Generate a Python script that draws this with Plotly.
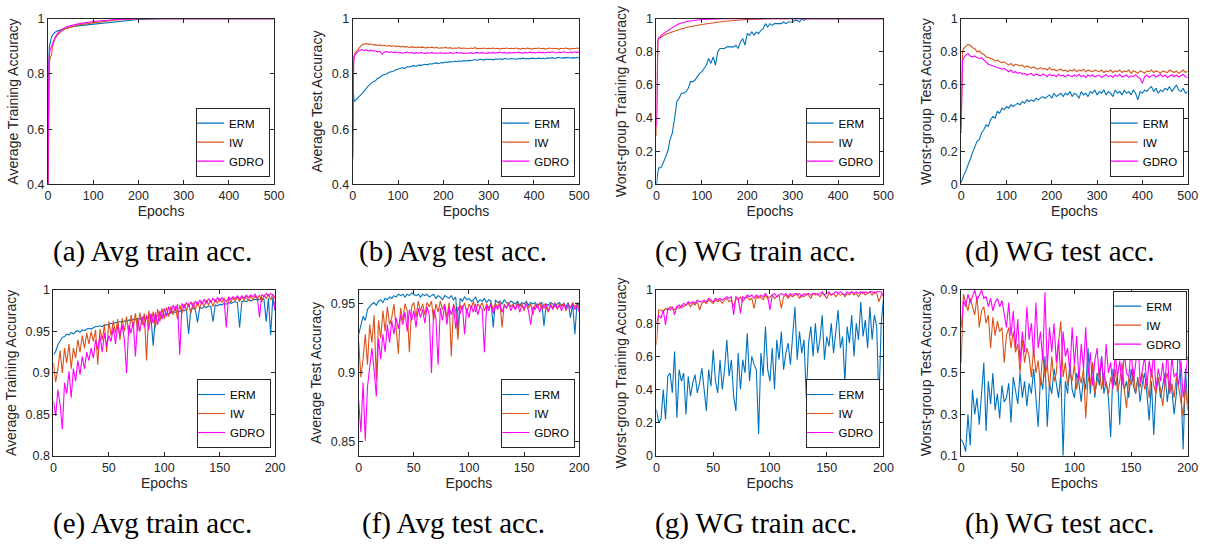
import plotly.graph_objects as go

# ---------------- data ----------------
SERIES = ["ERM", "IW", "GDRO"]
COLORS = {"ERM": "#0072BD", "IW": "#D95319", "GDRO": "#FF00FF"}

EP_TOP = [0, 1, 2, 3] + list(range(5, 501, 5))
EP_SPARSE = [0, 1, 2, 3, 5, 8, 10, 15, 20, 30, 40, 50, 70, 100, 150, 200, 250, 500]
EP_BOT = list(range(0, 201, 2))

# (a) average training accuracy (500 epochs)
A_ERM = [0.40, 0.77, 0.86, 0.90, 0.92, 0.935, 0.94, 0.95, 0.955, 0.96, 0.965, 0.97, 0.975, 0.98, 0.99, 0.997, 1.0, 1.0]
A_IW = [0.40, 0.72, 0.80, 0.84, 0.86, 0.87, 0.90, 0.925, 0.94, 0.955, 0.965, 0.97, 0.978, 0.985, 0.995, 1.0, 1.0, 1.0]
A_GDRO = [0.40, 0.75, 0.84, 0.87, 0.89, 0.90, 0.91, 0.93, 0.945, 0.96, 0.97, 0.975, 0.982, 0.99, 0.997, 1.0, 1.0, 1.0]

# (b) average test accuracy (500 epochs)
B_ERM = [0.78, 0.74, 0.71, 0.70,
         0.703, 0.710, 0.720, 0.728, 0.740, 0.748, 0.758, 0.765, 0.772, 0.775,
         0.784, 0.787, 0.795, 0.798, 0.800, 0.806, 0.808, 0.810, 0.815, 0.817,
         0.818, 0.822, 0.820, 0.826, 0.825, 0.828, 0.830, 0.827, 0.832, 0.831,
         0.834, 0.835, 0.833, 0.837, 0.836, 0.838, 0.840, 0.837, 0.841, 0.840,
         0.843, 0.842, 0.845, 0.843, 0.846, 0.845, 0.847, 0.846, 0.848, 0.847,
         0.849, 0.848, 0.850, 0.852, 0.849, 0.853, 0.852, 0.850, 0.854, 0.852,
         0.853, 0.851, 0.854, 0.853, 0.855, 0.852, 0.856, 0.854, 0.853, 0.856,
         0.855, 0.853, 0.856, 0.854, 0.857, 0.855, 0.856, 0.854, 0.857, 0.856,
         0.855, 0.858, 0.856, 0.857, 0.855, 0.858, 0.857, 0.859, 0.856, 0.858,
         0.860, 0.857, 0.859, 0.858, 0.860, 0.857, 0.859, 0.858, 0.860, 0.857]
B_IW = [0.50, 0.80, 0.85, 0.865,
        0.875, 0.885, 0.895, 0.905, 0.908, 0.910, 0.907, 0.909, 0.905, 0.906,
        0.903, 0.905, 0.902, 0.904, 0.901, 0.903, 0.900, 0.902, 0.899, 0.901,
        0.898, 0.900, 0.897, 0.899, 0.896, 0.898, 0.897, 0.895, 0.898, 0.896,
        0.897, 0.894, 0.896, 0.895, 0.897, 0.894, 0.896, 0.893, 0.895, 0.894,
        0.896, 0.893, 0.895, 0.892, 0.894, 0.893, 0.895, 0.892, 0.894, 0.893,
        0.891, 0.894, 0.892, 0.895, 0.891, 0.893, 0.892, 0.894, 0.891, 0.893,
        0.892, 0.894, 0.891, 0.893, 0.890, 0.893, 0.892, 0.894, 0.891, 0.893,
        0.891, 0.894, 0.892, 0.890, 0.893, 0.891, 0.894, 0.892, 0.890, 0.893,
        0.892, 0.894, 0.891, 0.893, 0.890, 0.892, 0.894, 0.891, 0.893, 0.892,
        0.890, 0.893, 0.891, 0.894, 0.892, 0.890, 0.893, 0.891, 0.894, 0.892]
B_GDRO = [0.49, 0.78, 0.84, 0.86,
          0.870, 0.878, 0.885, 0.888, 0.884, 0.887, 0.883, 0.886, 0.882, 0.884,
          0.880, 0.882, 0.872, 0.879, 0.881, 0.878, 0.880, 0.877, 0.879, 0.876,
          0.878, 0.875, 0.877, 0.879, 0.876, 0.878, 0.874, 0.877, 0.875, 0.878,
          0.876, 0.874, 0.877, 0.875, 0.878, 0.874, 0.876, 0.875, 0.877, 0.874,
          0.876, 0.875, 0.877, 0.874, 0.876, 0.878, 0.875, 0.877, 0.874, 0.876,
          0.875, 0.877, 0.874, 0.876, 0.878, 0.875, 0.877, 0.876, 0.874, 0.877,
          0.876, 0.878, 0.875, 0.877, 0.879, 0.876, 0.878, 0.875, 0.877, 0.876,
          0.878, 0.876, 0.879, 0.877, 0.875, 0.878, 0.876, 0.879, 0.877, 0.878,
          0.876, 0.879, 0.877, 0.878, 0.876, 0.879, 0.877, 0.880, 0.878, 0.876,
          0.879, 0.877, 0.880, 0.878, 0.876, 0.879, 0.877, 0.880, 0.878, 0.879]

# (c) worst-group training accuracy (500 epochs)
C_ERM = [0.00, 0.03, 0.05, 0.07,
         0.10, 0.10, 0.13, 0.17, 0.20, 0.27, 0.31, 0.40, 0.50, 0.52,
         0.55, 0.55, 0.56, 0.58, 0.62, 0.62, 0.63, 0.65, 0.67, 0.68,
         0.70, 0.72, 0.76, 0.73, 0.77, 0.72, 0.80, 0.82, 0.82, 0.82,
         0.83, 0.83, 0.83, 0.83, 0.84, 0.82, 0.86, 0.88, 0.84, 0.91,
         0.90, 0.92, 0.90, 0.92, 0.91, 0.93, 0.94, 0.97, 0.95, 0.97,
         0.96, 0.97, 0.97, 0.97, 0.97, 0.98, 0.97, 0.98, 0.98, 0.98,
         0.99, 0.99, 0.98, 1.00, 0.99, 1.00, 1.00, 1.00, 1.00, 1.00,
         1.00, 1.00, 1.00, 1.00, 1.00, 1.00, 1.00, 1.00, 1.00, 1.00,
         1.00, 1.00, 1.00, 1.00, 1.00, 1.00, 1.00, 1.00, 1.00, 1.00,
         1.00, 1.00, 1.00, 1.00, 1.00, 1.00, 1.00, 1.00, 1.00, 1.00]
C_IW = [0.29, 0.60, 0.80, 0.86, 0.88, 0.885, 0.89, 0.90, 0.905, 0.915, 0.925, 0.935, 0.95, 0.965, 0.985, 0.995, 1.0, 1.0]
C_GDRO = [0.35, 0.65, 0.82, 0.87, 0.885, 0.89, 0.90, 0.91, 0.92, 0.935, 0.955, 0.97, 0.985, 0.995, 1.0, 1.0, 1.0, 1.0]

# (d) worst-group test accuracy (500 epochs)
D_ERM = [0.01, 0.02, 0.03, 0.04,
         0.05, 0.08, 0.11, 0.15, 0.19, 0.22, 0.26, 0.27, 0.31, 0.33,
         0.36, 0.35, 0.39, 0.41, 0.40, 0.44, 0.43, 0.46, 0.45, 0.47,
         0.46, 0.48, 0.47, 0.48, 0.49, 0.48, 0.50, 0.49, 0.51, 0.50,
         0.51, 0.50, 0.52, 0.51, 0.52, 0.53, 0.52, 0.53, 0.54, 0.52,
         0.55, 0.53, 0.54, 0.55, 0.53, 0.55, 0.54, 0.56, 0.53, 0.55,
         0.54, 0.52, 0.56, 0.54, 0.55, 0.53, 0.56, 0.55, 0.57, 0.54,
         0.56, 0.55, 0.57, 0.54, 0.56, 0.55, 0.53, 0.57, 0.55, 0.56,
         0.54, 0.57, 0.55, 0.56, 0.54, 0.57, 0.55, 0.51, 0.56, 0.55,
         0.57, 0.56, 0.58, 0.59, 0.56, 0.58, 0.55, 0.57, 0.56, 0.58,
         0.57, 0.59, 0.56, 0.58, 0.60, 0.57, 0.56, 0.58, 0.55, 0.56]
D_IW = [0.31, 0.65, 0.78, 0.80,
        0.82, 0.835, 0.845, 0.84, 0.825, 0.82, 0.80, 0.805, 0.79, 0.785,
        0.77, 0.765, 0.76, 0.755, 0.745, 0.75, 0.74, 0.735, 0.74, 0.73,
        0.72, 0.73, 0.715, 0.725, 0.72, 0.715, 0.72, 0.705, 0.715, 0.71,
        0.70, 0.71, 0.70, 0.695, 0.705, 0.695, 0.70, 0.69, 0.705, 0.69,
        0.695, 0.685, 0.69, 0.695, 0.685, 0.69, 0.68, 0.69, 0.685, 0.695,
        0.68, 0.69, 0.685, 0.695, 0.68, 0.69, 0.685, 0.68, 0.69, 0.685,
        0.68, 0.69, 0.675, 0.685, 0.68, 0.69, 0.675, 0.685, 0.68, 0.69,
        0.675, 0.685, 0.68, 0.69, 0.67, 0.685, 0.68, 0.67, 0.685, 0.68,
        0.67, 0.685, 0.68, 0.69, 0.675, 0.685, 0.68, 0.67, 0.685, 0.68,
        0.675, 0.69, 0.68, 0.675, 0.685, 0.67, 0.68, 0.69, 0.675, 0.685]
D_GDRO = [0.35, 0.60, 0.72, 0.75,
          0.76, 0.78, 0.79, 0.775, 0.77, 0.775, 0.765, 0.76, 0.765, 0.75,
          0.74, 0.725, 0.72, 0.715, 0.71, 0.705, 0.70, 0.695, 0.70, 0.69,
          0.68, 0.69, 0.675, 0.68, 0.67, 0.675, 0.665, 0.67, 0.66, 0.665,
          0.67, 0.655, 0.665, 0.66, 0.655, 0.665, 0.66, 0.65, 0.665, 0.655,
          0.66, 0.65, 0.665, 0.655, 0.66, 0.648, 0.662, 0.655, 0.65, 0.66,
          0.652, 0.665, 0.65, 0.658, 0.645, 0.66, 0.652, 0.662, 0.648, 0.655,
          0.66, 0.645, 0.655, 0.662, 0.65, 0.658, 0.645, 0.66, 0.652, 0.665,
          0.648, 0.655, 0.66, 0.645, 0.655, 0.65, 0.662, 0.648, 0.64, 0.61,
          0.65, 0.66, 0.645, 0.655, 0.662, 0.648, 0.658, 0.665, 0.65, 0.66,
          0.645, 0.655, 0.662, 0.65, 0.66, 0.648, 0.655, 0.665, 0.65, 0.645]

# (e) average training accuracy (200 epochs)
E_ERM = [0.922, 0.926, 0.934, 0.938, 0.943, 0.944, 0.947, 0.946, 0.949, 0.947,
         0.950, 0.951, 0.949, 0.952, 0.951, 0.953, 0.954, 0.953, 0.955, 0.956,
         0.956, 0.957, 0.956, 0.958, 0.958, 0.959, 0.960, 0.959, 0.961, 0.961,
         0.962, 0.961, 0.963, 0.962, 0.964, 0.963, 0.965, 0.964, 0.966, 0.965,
         0.966, 0.967, 0.966, 0.968, 0.967, 0.933, 0.968, 0.969, 0.970, 0.969,
         0.971, 0.972, 0.971, 0.973, 0.974, 0.973, 0.975, 0.974, 0.976, 0.975,
         0.977, 0.947, 0.977, 0.978, 0.977, 0.961, 0.979, 0.978, 0.980, 0.979,
         0.981, 0.980, 0.962, 0.982, 0.981, 0.983, 0.982, 0.984, 0.983, 0.985,
         0.984, 0.985, 0.986, 0.985, 0.955, 0.986, 0.987, 0.986, 0.988, 0.987,
         0.988, 0.989, 0.988, 0.989, 0.990, 0.989, 0.962, 0.990, 0.946, 0.991,
         0.975]
E_IW = [0.912, 0.889, 0.905, 0.927, 0.900, 0.930, 0.912, 0.935, 0.905, 0.930,
        0.918, 0.940, 0.925, 0.945, 0.930, 0.948, 0.935, 0.950, 0.938, 0.952,
        0.910, 0.953, 0.940, 0.958, 0.925, 0.962, 0.945, 0.963, 0.948, 0.965,
        0.940, 0.966, 0.950, 0.968, 0.945, 0.970, 0.955, 0.972, 0.950, 0.973,
        0.958, 0.972, 0.915, 0.975, 0.960, 0.974, 0.955, 0.977, 0.962, 0.978,
        0.965, 0.979, 0.968, 0.980, 0.970, 0.981, 0.965, 0.982, 0.972, 0.983,
        0.975, 0.984, 0.972, 0.985, 0.976, 0.986, 0.978, 0.987, 0.980, 0.988,
        0.982, 0.988, 0.980, 0.989, 0.984, 0.990, 0.985, 0.990, 0.986, 0.991,
        0.985, 0.991, 0.987, 0.992, 0.986, 0.992, 0.988, 0.992, 0.987, 0.993,
        0.988, 0.993, 0.989, 0.994, 0.986, 0.994, 0.990, 0.995, 0.988, 0.995,
        0.990]
E_GDRO = [0.866, 0.848, 0.880, 0.862, 0.832, 0.888, 0.875, 0.902, 0.870, 0.905,
          0.890, 0.915, 0.898, 0.920, 0.905, 0.925, 0.915, 0.930, 0.918, 0.940,
          0.928, 0.945, 0.925, 0.948, 0.932, 0.945, 0.938, 0.955, 0.935, 0.958,
          0.945, 0.958, 0.940, 0.900, 0.958, 0.948, 0.962, 0.920, 0.965, 0.950,
          0.968, 0.955, 0.970, 0.952, 0.972, 0.960, 0.973, 0.958, 0.975, 0.965,
          0.978, 0.968, 0.980, 0.972, 0.982, 0.975, 0.983, 0.922, 0.984, 0.978,
          0.985, 0.980, 0.986, 0.979, 0.987, 0.982, 0.988, 0.983, 0.989, 0.984,
          0.990, 0.985, 0.990, 0.986, 0.991, 0.987, 0.991, 0.988, 0.955, 0.992,
          0.989, 0.992, 0.990, 0.993, 0.989, 0.993, 0.990, 0.994, 0.991, 0.994,
          0.992, 0.995, 0.991, 0.967, 0.995, 0.992, 0.996, 0.993, 0.996, 0.994,
          0.976]

# (f) average test accuracy (200 epochs)
F_ERM = [0.928, 0.935, 0.941, 0.938, 0.946, 0.948, 0.950, 0.951, 0.949, 0.952,
         0.953, 0.951, 0.954, 0.953, 0.955, 0.954, 0.956, 0.955, 0.957, 0.956,
         0.957, 0.955, 0.957, 0.956, 0.958, 0.957, 0.956, 0.957, 0.955, 0.957,
         0.956, 0.957, 0.955, 0.956, 0.957, 0.954, 0.956, 0.955, 0.953, 0.956,
         0.955, 0.954, 0.956, 0.953, 0.955, 0.930, 0.954, 0.952, 0.955, 0.953,
         0.954, 0.952, 0.953, 0.955, 0.951, 0.953, 0.952, 0.954, 0.951, 0.953,
         0.952, 0.933, 0.953, 0.951, 0.952, 0.950, 0.953, 0.951, 0.950, 0.952,
         0.951, 0.950, 0.952, 0.949, 0.951, 0.950, 0.952, 0.949, 0.951, 0.950,
         0.951, 0.949, 0.950, 0.951, 0.934, 0.950, 0.949, 0.951, 0.950, 0.948,
         0.950, 0.951, 0.949, 0.950, 0.948, 0.951, 0.940, 0.950, 0.928, 0.951,
         0.949]
F_IW = [0.923, 0.897, 0.910, 0.928, 0.906, 0.935, 0.922, 0.942, 0.895, 0.938,
        0.925, 0.945, 0.930, 0.948, 0.935, 0.940, 0.950, 0.932, 0.914, 0.947,
        0.938, 0.950, 0.945, 0.915, 0.948, 0.951, 0.940, 0.952, 0.945, 0.950,
        0.942, 0.951, 0.948, 0.952, 0.938, 0.950, 0.944, 0.952, 0.946, 0.950,
        0.940, 0.951, 0.912, 0.950, 0.945, 0.924, 0.949, 0.946, 0.951, 0.943,
        0.950, 0.947, 0.952, 0.944, 0.950, 0.948, 0.951, 0.945, 0.950, 0.947,
        0.951, 0.946, 0.950, 0.948, 0.952, 0.933, 0.950, 0.947, 0.951, 0.948,
        0.950, 0.946, 0.951, 0.948, 0.950, 0.945, 0.951, 0.947, 0.950, 0.942,
        0.950, 0.947, 0.951, 0.946, 0.950, 0.948, 0.944, 0.950, 0.947, 0.951,
        0.946, 0.950, 0.948, 0.951, 0.945, 0.950, 0.947, 0.951, 0.948, 0.950,
        0.947]
F_GDRO = [0.880, 0.857, 0.893, 0.851, 0.890, 0.905, 0.918, 0.902, 0.883, 0.925,
          0.910, 0.928, 0.915, 0.935, 0.922, 0.938, 0.928, 0.940, 0.932, 0.942,
          0.935, 0.944, 0.930, 0.946, 0.938, 0.945, 0.933, 0.947, 0.940, 0.946,
          0.936, 0.948, 0.942, 0.900, 0.946, 0.940, 0.906, 0.947, 0.938, 0.949,
          0.935, 0.948, 0.942, 0.949, 0.932, 0.948, 0.943, 0.949, 0.928, 0.947,
          0.940, 0.949, 0.944, 0.950, 0.942, 0.948, 0.946, 0.915, 0.949, 0.945,
          0.950, 0.943, 0.949, 0.946, 0.950, 0.944, 0.949, 0.947, 0.950, 0.945,
          0.949, 0.946, 0.950, 0.944, 0.949, 0.947, 0.950, 0.945, 0.935, 0.948,
          0.946, 0.950, 0.944, 0.949, 0.947, 0.950, 0.945, 0.949, 0.946, 0.950,
          0.947, 0.949, 0.945, 0.950, 0.946, 0.949, 0.947, 0.950, 0.946, 0.949,
          0.944]

# (g) worst-group training accuracy (200 epochs)
G_ERM = [0.28, 0.20, 0.22, 0.40, 0.22, 0.48, 0.50, 0.38, 0.63, 0.23,
         0.52, 0.45, 0.50, 0.25, 0.48, 0.36, 0.44, 0.49, 0.38, 0.44,
         0.53, 0.40, 0.27, 0.52, 0.42, 0.64, 0.45, 0.38, 0.58, 0.40,
         0.52, 0.70, 0.48, 0.58, 0.36, 0.27, 0.62, 0.40, 0.58, 0.50,
         0.74, 0.45, 0.60, 0.55, 0.52, 0.13, 0.62, 0.48, 0.78, 0.52,
         0.45, 0.65, 0.40, 0.70, 0.58, 0.75, 0.52, 0.62, 0.68, 0.55,
         0.72, 0.90, 0.58, 0.75, 0.62, 0.70, 0.35, 0.68, 0.78, 0.60,
         0.80, 0.62, 0.70, 0.85, 0.58, 0.72, 0.66, 0.80, 0.62, 0.75,
         0.88, 0.65, 0.72, 0.44, 0.78, 0.68, 0.85, 0.60, 0.80, 0.70,
         0.93, 0.72, 0.82, 0.65, 0.90, 0.70, 0.85, 0.78, 0.32, 0.80,
         0.95]
G_IW = [0.67, 0.88, 0.88, 0.87, 0.89, 0.88, 0.90, 0.89, 0.88, 0.90,
        0.89, 0.91, 0.90, 0.91, 0.92, 0.90, 0.92, 0.91, 0.93, 0.88,
        0.92, 0.93, 0.92, 0.94, 0.93, 0.92, 0.94, 0.93, 0.94, 0.92,
        0.94, 0.95, 0.93, 0.94, 0.90, 0.95, 0.94, 0.96, 0.93, 0.95,
        0.96, 0.94, 0.95, 0.89, 0.96, 0.95, 0.96, 0.94, 0.97, 0.95,
        0.96, 0.97, 0.95, 0.96, 0.97, 0.89, 0.96, 0.97, 0.95, 0.97,
        0.96, 0.97, 0.98, 0.95, 0.97, 0.96, 0.98, 0.97, 0.95, 0.98,
        0.97, 0.98, 0.96, 0.98, 0.97, 0.95, 0.98, 0.97, 0.98, 0.96,
        0.98, 0.97, 0.98, 0.96, 0.98, 0.97, 0.99, 0.97, 0.98, 0.96,
        0.98, 0.99, 0.97, 0.98, 0.99, 0.97, 0.99, 0.98, 0.93, 0.97,
        0.98]
G_GDRO = [0.80, 0.85, 0.83, 0.88, 0.79, 0.89, 0.88, 0.90, 0.85, 0.90,
          0.91, 0.89, 0.92, 0.91, 0.93, 0.92, 0.93, 0.92, 0.94, 0.93,
          0.93, 0.94, 0.93, 0.95, 0.94, 0.93, 0.95, 0.94, 0.95, 0.94,
          0.95, 0.96, 0.95, 0.96, 0.85, 0.96, 0.95, 0.86, 0.96, 0.95,
          0.97, 0.96, 0.97, 0.95, 0.97, 0.96, 0.97, 0.96, 0.98, 0.96,
          0.88, 0.97, 0.98, 0.96, 0.97, 0.98, 0.97, 0.98, 0.96, 0.98,
          0.97, 0.98, 0.97, 0.98, 0.96, 0.98, 0.97, 0.98, 0.97, 0.98,
          0.98, 0.97, 0.98, 0.99, 0.97, 0.98, 0.99, 0.97, 0.98, 0.99,
          0.98, 0.99, 0.98, 0.97, 0.99, 0.98, 0.99, 0.98, 0.99, 0.98,
          0.99, 0.98, 0.99, 0.98, 0.99, 0.99, 0.98, 0.99, 0.99, 0.99,
          0.96]

# (h) worst-group test accuracy (200 epochs)
H_ERM = [0.18, 0.16, 0.12, 0.30, 0.15, 0.42, 0.30, 0.38, 0.25, 0.40,
         0.55, 0.22, 0.46, 0.35, 0.50, 0.32, 0.40, 0.28, 0.44, 0.36,
         0.38, 0.45, 0.26, 0.48, 0.42, 0.35, 0.50, 0.38, 0.46, 0.34,
         0.45, 0.40, 0.52, 0.36, 0.24, 0.48, 0.42, 0.58, 0.24, 0.45,
         0.40, 0.52, 0.44, 0.38, 0.50, 0.10, 0.46, 0.40, 0.55, 0.42,
         0.38, 0.50, 0.45, 0.36, 0.48, 0.42, 0.62, 0.40, 0.55, 0.38,
         0.50, 0.44, 0.58, 0.40, 0.46, 0.38, 0.19, 0.52, 0.44, 0.48,
         0.25, 0.50, 0.42, 0.46, 0.38, 0.52, 0.44, 0.40, 0.48, 0.36,
         0.45, 0.50, 0.40, 0.27, 0.46, 0.20, 0.42, 0.48, 0.38, 0.44,
         0.50, 0.36, 0.46, 0.42, 0.30, 0.40, 0.68, 0.44, 0.13, 0.52,
         0.35]
H_IW = [0.55, 0.88, 0.84, 0.80, 0.86, 0.82, 0.78, 0.87, 0.72, 0.80,
        0.82, 0.74, 0.78, 0.62, 0.77, 0.68, 0.75, 0.70, 0.72, 0.55,
        0.68, 0.72, 0.62, 0.70, 0.60, 0.64, 0.50, 0.66, 0.55, 0.62,
        0.58, 0.48, 0.62, 0.50, 0.56, 0.44, 0.60, 0.48, 0.54, 0.42,
        0.58, 0.46, 0.50, 0.65, 0.75, 0.48, 0.55, 0.44, 0.50, 0.46,
        0.54, 0.42, 0.50, 0.45, 0.52, 0.28, 0.48, 0.44, 0.55, 0.40,
        0.47, 0.52, 0.42, 0.50, 0.45, 0.40, 0.48, 0.43, 0.52, 0.41,
        0.46, 0.55, 0.42, 0.33, 0.48, 0.44, 0.52, 0.40, 0.47, 0.43,
        0.50, 0.42, 0.46, 0.38, 0.52, 0.44, 0.40, 0.48, 0.42, 0.34,
        0.46, 0.50, 0.40, 0.45, 0.38, 0.48, 0.43, 0.36, 0.29, 0.44,
        0.32]
H_GDRO = [0.72, 0.85, 0.82, 0.88, 0.84, 0.87, 0.90, 0.85, 0.88, 0.90,
          0.86, 0.87, 0.82, 0.86, 0.80, 0.84, 0.86, 0.82, 0.85, 0.78,
          0.72, 0.84, 0.68, 0.80, 0.62, 0.76, 0.55, 0.70, 0.60, 0.82,
          0.66, 0.74, 0.58, 0.84, 0.62, 0.70, 0.56, 0.89, 0.52, 0.72,
          0.60, 0.74, 0.55, 0.66, 0.48, 0.70, 0.58, 0.62, 0.50, 0.72,
          0.54, 0.68, 0.46, 0.64, 0.52, 0.72, 0.48, 0.60, 0.44, 0.56,
          0.62, 0.48, 0.58, 0.44, 0.64, 0.50, 0.55, 0.42, 0.60, 0.48,
          0.56, 0.44, 0.60, 0.50, 0.48, 0.62, 0.46, 0.54, 0.68, 0.45,
          0.52, 0.58, 0.44, 0.56, 0.48, 0.60, 0.42, 0.52, 0.46, 0.55,
          0.44, 0.62, 0.40, 0.58, 0.48, 0.50, 0.44, 0.56, 0.38, 0.48,
          0.58]

CAPTIONS = ["(a) Avg train acc.", "(b) Avg test acc.", "(c) WG train acc.", "(d) WG test acc.",
            "(e) Avg train acc.", "(f) Avg test acc.", "(g) WG train acc.", "(h) WG test acc."]
YTITLES = ["Average Training Accuracy", "Average Test Accuracy",
           "Worst-group Training Accuracy", "Worst-group Test Accuracy"] * 2
XTICKS_TOP = [0, 100, 200, 300, 400, 500]
XTICKS_BOT = [0, 50, 100, 150, 200]
YT_AB = [0.4, 0.6, 0.8, 1.0]
YL_AB = ["0.4", "0.6", "0.8", "1"]
YT_01 = [0, 0.2, 0.4, 0.6, 0.8, 1.0]
YL_01 = ["0", "0.2", "0.4", "0.6", "0.8", "1"]
YT_E = [0.8, 0.85, 0.9, 0.95, 1.0]
YL_E = ["0.8", "0.85", "0.9", "0.95", "1"]
YT_F = [0.85, 0.9, 0.95]
YL_F = ["0.85", "0.9", "0.95"]
YT_H = [0.1, 0.3, 0.5, 0.7, 0.9]
YL_H = ["0.1", "0.3", "0.5", "0.7", "0.9"]

# ---------------- panel setup ----------------
W, H = 1217, 551
PANELS = [
    dict(x=(EP_SPARSE, EP_SPARSE, EP_SPARSE), y=(A_ERM, A_IW, A_GDRO), xr=[0, 500], xt=XTICKS_TOP,
         yr=[0.4, 1.0], yt=YT_AB, yl=YL_AB, px=(45.5, 274), py=(12, 182), cap=151, leg="br"),
    dict(x=(EP_TOP, EP_TOP, EP_TOP), y=(B_ERM, B_IW, B_GDRO), xr=[0, 500], xt=XTICKS_TOP,
         yr=[0.4, 1.0], yt=YT_AB, yl=YL_AB, px=(353.5, 582.5), py=(12, 182), cap=455, leg="br"),
    dict(x=(EP_TOP, EP_SPARSE, EP_SPARSE), y=(C_ERM, C_IW, C_GDRO), xr=[0, 500], xt=XTICKS_TOP,
         yr=[0, 1.0], yt=YT_01, yl=YL_01, px=(660.5, 890), py=(12, 182), cap=761, leg="br"),
    dict(x=(EP_TOP, EP_TOP, EP_TOP), y=(D_ERM, D_IW, D_GDRO), xr=[0, 500], xt=XTICKS_TOP,
         yr=[0, 1.0], yt=YT_01, yl=YL_01, px=(968.5, 1197.5), py=(12, 182), cap=1068, leg="br"),
    dict(x=(EP_BOT, EP_BOT, EP_BOT), y=(E_ERM, E_IW, E_GDRO), xr=[0, 200], xt=XTICKS_BOT,
         yr=[0.8, 1.0], yt=YT_E, yl=YL_E, px=(51, 275), py=(290.5, 460.5), cap=151, leg="br"),
    dict(x=(EP_BOT, EP_BOT, EP_BOT), y=(F_ERM, F_IW, F_GDRO), xr=[0, 200], xt=XTICKS_BOT,
         yr=[0.84, 0.96], yt=YT_F, yl=YL_F, px=(359.5, 582.5), py=(290.5, 460.5), cap=455, leg="br"),
    dict(x=(EP_BOT, EP_BOT, EP_BOT), y=(G_ERM, G_IW, G_GDRO), xr=[0, 200], xt=XTICKS_BOT,
         yr=[0, 1.0], yt=YT_01, yl=YL_01, px=(660.5, 890), py=(290.5, 460.5), cap=761, leg="br"),
    dict(x=(EP_BOT, EP_BOT, EP_BOT), y=(H_ERM, H_IW, H_GDRO), xr=[0, 200], xt=XTICKS_BOT,
         yr=[0.1, 0.9], yt=YT_H, yl=YL_H, px=(968.5, 1197.5), py=(290.5, 460.5), cap=1068, leg="tr"),
]

AX_COLOR = "#262626"
SANS = "Liberation Sans"
fig = go.Figure()
layout = dict(width=W, height=H, margin=dict(l=0, r=0, t=0, b=0),
              paper_bgcolor="white", plot_bgcolor="white",
              font=dict(family=SANS, color=AX_COLOR), annotations=[])

for i, p in enumerate(PANELS):
    n = i + 1
    sfx = "" if n == 1 else str(n)
    legname = "legend" + sfx
    for k, name in enumerate(SERIES):
        fig.add_trace(go.Scatter(
            x=p["x"][k], y=p["y"][k], mode="lines", name=name,
            line=dict(color=COLORS[name], width=1.1),
            xaxis="x" + sfx, yaxis="y" + sfx, legend=legname, showlegend=True))
    x0, x1 = p["px"]
    y0, y1 = p["py"]
    common = dict(showline=True, linecolor=AX_COLOR, linewidth=1, mirror="ticks",
                  ticks="inside", ticklen=4, tickcolor=AX_COLOR, tickwidth=1,
                  showgrid=False, zeroline=False,
                  tickfont=dict(family=SANS, size=12.5, color=AX_COLOR))
    layout["xaxis" + sfx] = dict(common, domain=[x0 / W, x1 / W], anchor="y" + sfx,
                                 range=p["xr"], tickvals=p["xt"],
                                 title=dict(text="Epochs", font=dict(family=SANS, size=14, color=AX_COLOR), standoff=3))
    layout["yaxis" + sfx] = dict(common, domain=[1 - y1 / H, 1 - y0 / H], anchor="x" + sfx,
                                 range=p["yr"], tickvals=p["yt"], ticktext=p["yl"],
                                 title=dict(text=YTITLES[i], font=dict(family=SANS, size=14, color=AX_COLOR), standoff=5))
    if p["leg"] == "br":
        leg = dict(x=(x1 - 4) / W, y=1 - (y1 - 8) / H, xanchor="right", yanchor="bottom")
    else:
        leg = dict(x=(x1 - 0.5) / W, y=1 - (y0 + 0.5) / H, xanchor="right", yanchor="top")
    layout[legname] = dict(leg, bgcolor="white", bordercolor=AX_COLOR, borderwidth=1,
                           font=dict(family=SANS, size=11.5, color="black"),
                           itemwidth=30, tracegroupgap=0, traceorder="normal", indentation=-8)
    cy = 251 if n <= 4 else 530
    layout["annotations"].append(dict(
        text=CAPTIONS[i], x=p["cap"] / W, y=1 - cy / H, xref="paper", yref="paper",
        xanchor="center", yanchor="middle", showarrow=False,
        font=dict(family="Liberation Serif", size=29, color="black")))

fig.update_layout(**layout)
fig.write_html("out.html", config={"displayModeBar": False},
               post_script="document.body.style.margin='0';document.body.style.overflow='hidden';")
